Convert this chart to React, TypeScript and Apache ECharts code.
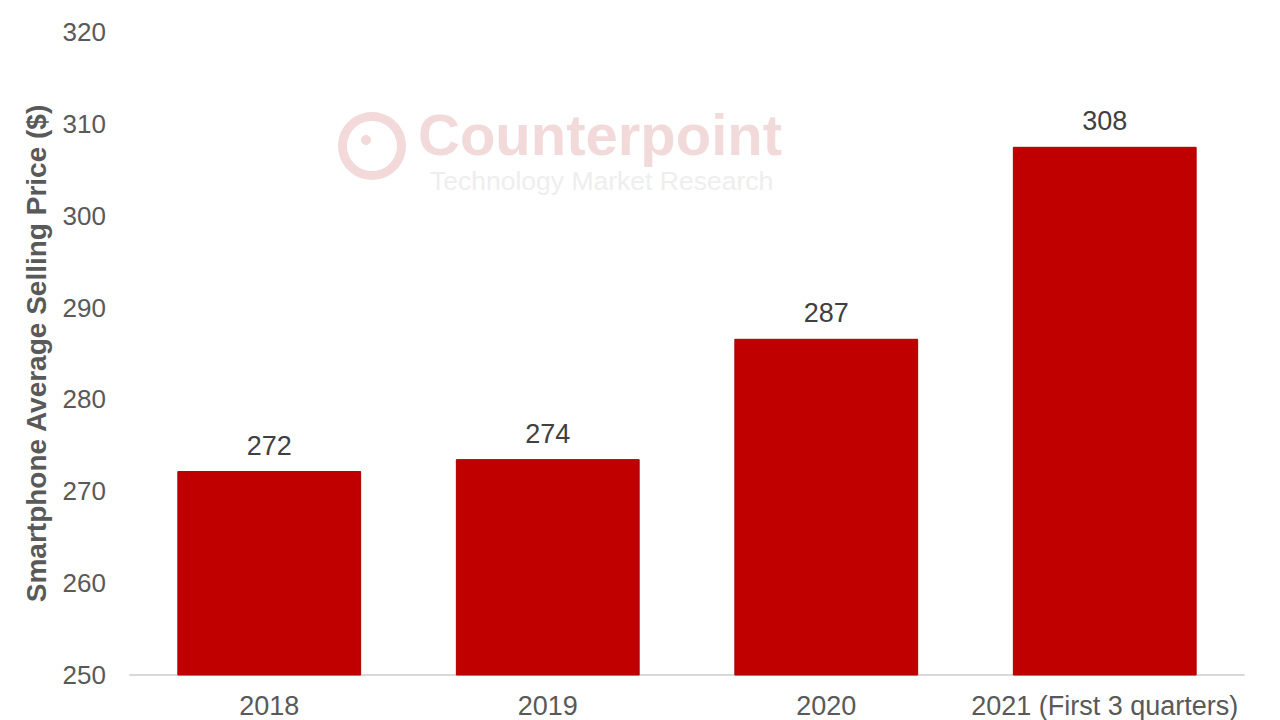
import React, { useEffect, useRef } from "react";
import * as echarts from "echarts";

const categories = ["2018", "2019", "2020", "2021 (First 3 quarters)"];
const aspValues = [272.2, 273.5, 286.6, 307.5];
const aspLabels = ["272", "274", "287", "308"];
const yTicks = { min: 250, max: 320, interval: 10 };

export default function App() {
  const ref = useRef<HTMLDivElement>(null);
  useEffect(() => {
    if (!ref.current) return;
    const chart = echarts.init(ref.current, null, { renderer: "svg" });
    const font = "'Liberation Sans', Arial, sans-serif";
    chart.setOption({
      animation: false,
      backgroundColor: "#ffffff",
      textStyle: { fontFamily: font },
      grid: { left: 130, right: 36, top: 32, bottom: 45 },
      graphic: [
        {
          type: "ring",
          z: -10,
          shape: { cx: 372, cy: 146, r: 34, r0: 25 },
          style: { fill: "#f3d9d9" },
        },
        {
          type: "circle",
          z: -10,
          shape: { cx: 366, cy: 140, r: 5 },
          style: { fill: "#f3d9d9" },
        },
        {
          type: "text",
          z: -10,
          x: 418,
          y: 134,
          style: {
            text: "Counterpoint",
            font: "bold 58px 'Liberation Sans', Arial, sans-serif",
            lineHeight: 54,
            fill: "#f3dada",
            verticalAlign: "middle",
          },
        },
        {
          type: "text",
          z: -10,
          x: 430,
          y: 181,
          style: {
            text: "Technology Market Research",
            font: "26.5px 'Liberation Sans', Arial, sans-serif",
            lineHeight: 26,
            fill: "#eeeeee",
            verticalAlign: "middle",
          },
        },
      ],
      xAxis: {
        type: "category",
        data: categories,
        axisLine: { show: true, lineStyle: { color: "#d9d9d9", width: 2 } },
        axisTick: { show: false },
        axisLabel: { color: "#595959", fontSize: 27, margin: 17, interval: 0, fontFamily: font },
      },
      yAxis: {
        type: "value",
        min: yTicks.min,
        max: yTicks.max,
        interval: yTicks.interval,
        name: "Smartphone Average Selling Price ($)",
        nameLocation: "middle",
        nameRotate: 90,
        nameGap: 80,
        nameTextStyle: { color: "#595959", fontSize: 28, fontWeight: "bold", fontFamily: font },
        axisLine: { show: false },
        axisTick: { show: false },
        splitLine: { show: false },
        axisLabel: { color: "#595959", fontSize: 26, margin: 24, fontFamily: font },
      },
      series: [
        {
          type: "bar",
          data: aspValues,
          barWidth: "66%",
          itemStyle: { color: "#c00000", borderColor: "#a80000", borderWidth: 1 },
          label: {
            show: true,
            position: "top",
            distance: 12,
            color: "#404040",
            fontSize: 27,
            fontFamily: font,
            formatter: (p: any) => aspLabels[p.dataIndex],
          },
        },
      ],
    });
    return () => chart.dispose();
  }, []);
  return (
    <div
      ref={ref}
      style={{ position: "absolute", left: 0, top: 0, width: 1280, height: 720 }}
    />
  );
}
